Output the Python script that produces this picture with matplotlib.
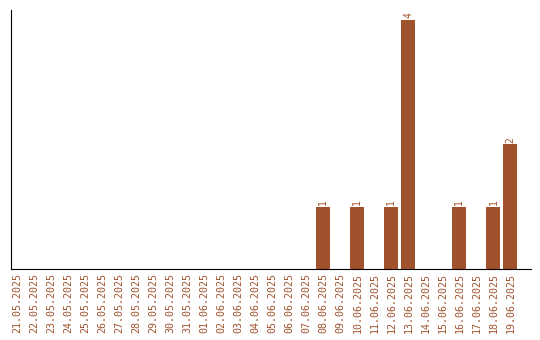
import matplotlib
matplotlib.use("Agg")
import matplotlib.pyplot as plt

fechas = ["21.05.2025", "22.05.2025", "23.05.2025", "24.05.2025", "25.05.2025",
          "26.05.2025", "27.05.2025", "28.05.2025", "29.05.2025", "30.05.2025",
          "31.05.2025", "01.06.2025", "02.06.2025", "03.06.2025", "04.06.2025",
          "05.06.2025", "06.06.2025", "07.06.2025", "08.06.2025", "09.06.2025",
          "10.06.2025", "11.06.2025", "12.06.2025", "13.06.2025", "14.06.2025",
          "15.06.2025", "16.06.2025", "17.06.2025", "18.06.2025", "19.06.2025"]
valores = [0, 0, 0, 0, 0, 0, 0, 0, 0, 0,
           0, 0, 0, 0, 0, 0, 0, 0, 1, 0,
           1, 0, 1, 4, 0, 0, 1, 0, 1, 2]

color = "#A0522D"
plt.rcParams['font.family'] = ['DejaVu Sans Mono']

fig = plt.figure(figsize=(5.4, 3.4), dpi=100)
ax = fig.add_axes([0.0204, 0.2088, 0.9625, 0.7618])

pos = list(range(len(fechas)))
ax.bar(pos, valores, width=0.82, color=color)
for p, v in zip(pos, valores):
    if v > 0:
        ax.text(p, v + 0.03, str(v), rotation=90, ha='center', va='bottom',
                fontsize=7, color=color)

ax.set_xlim(-0.37, 30.2)
ax.set_ylim(0, 4.16)
ax.set_xticks(pos)
ax.set_xticklabels(fechas, rotation=90, fontsize=7.2, color=color)
ax.tick_params(axis='x', length=0, pad=3)
ax.set_yticks([])
ax.spines['top'].set_visible(False)
ax.spines['right'].set_visible(False)

fig.savefig("out.png", dpi=100)
